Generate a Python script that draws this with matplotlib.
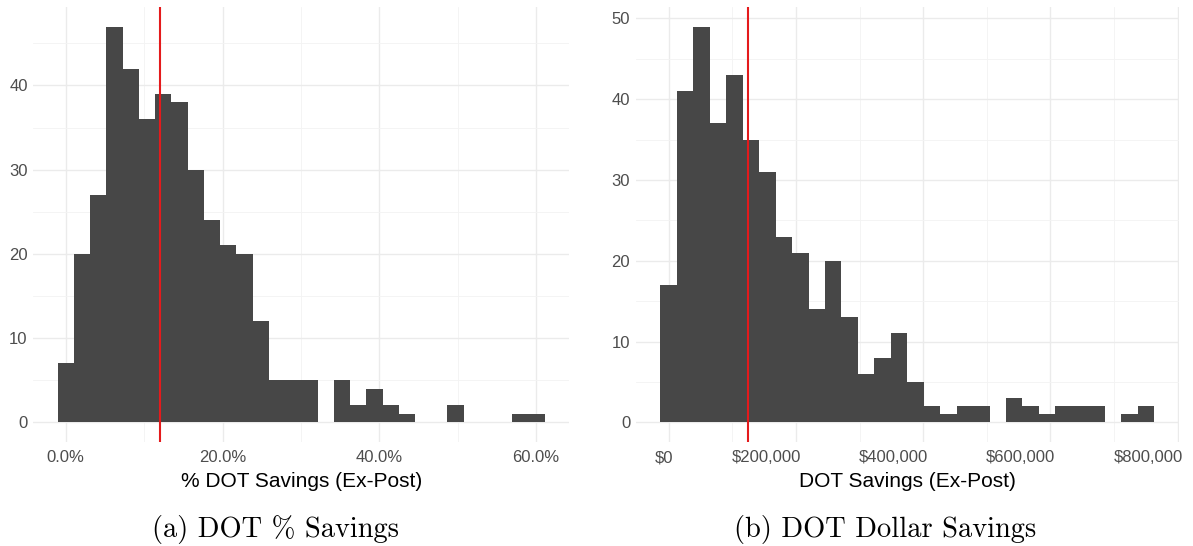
import matplotlib
matplotlib.use("Agg")
import matplotlib.pyplot as plt
import matplotlib.transforms as mtransforms
from matplotlib.ticker import FuncFormatter
import numpy as np

# Histogram counts (30 bins each, ggplot default)
pct_counts = [7, 20, 27, 47, 42, 36, 39, 38, 30, 24, 21, 20, 12, 5, 5,
              5, 0, 5, 2, 4, 2, 1, 0, 0, 2, 0, 0, 0, 1, 1]
pct_binwidth = 2.072      # percent
pct_first_center = 0.0
pct_median = 12.05

dollar_counts = [17, 41, 49, 37, 43, 35, 31, 23, 21, 14, 20, 13, 6, 8, 11,
                 5, 2, 1, 2, 2, 0, 3, 2, 1, 2, 2, 2, 0, 1, 2]
dollar_binwidth = 25860.0
dollar_first_center = 0.0
dollar_median = 124000.0

pct_ticks = [0, 20, 40, 60]
dollar_ticks = [0, 200000, 400000, 600000, 800000]

captions = ["(a) DOT % Savings", "(b) DOT Dollar Savings"]
xlabels = ["% DOT Savings (Ex-Post)", "DOT Savings (Ex-Post)"]

# Style
plt.rcParams["font.family"] = ["Liberation Sans", "DejaVu Sans"]
bar_color = "#474747"
line_color = "#e41a1c"
tick_color = "#4d4d4d"

fig = plt.figure(figsize=(11.93, 5.46), dpi=100)
ax1 = fig.add_axes([0.0279, 0.1903, 0.4493, 0.7974])
ax2 = fig.add_axes([0.5329, 0.1903, 0.4552, 0.7974])


def draw_hist(ax, counts, width, first_center, median):
    counts = np.asarray(counts)
    lefts = first_center - width / 2 + width * np.arange(len(counts))
    ax.bar(lefts, counts, width=width, align="edge", color=bar_color,
           linewidth=0, zorder=2)
    ax.axvline(median, color=line_color, linewidth=1.5, zorder=3)
    lo = lefts[0]
    hi = lefts[-1] + width
    pad = (hi - lo) * 0.05
    ax.set_xlim(lo - pad, hi + pad)
    top = counts.max()
    ax.set_ylim(-top * 0.05, top * 1.05)
    for s in ax.spines.values():
        s.set_visible(False)
    ymax = top * 1.05
    ax.set_yticks([v for v in range(0, 60, 10) if v <= ymax])
    ax.set_yticks([v for v in range(5, 60, 10) if v <= ymax], minor=True)
    ax.tick_params(length=0, labelsize=12, labelcolor=tick_color)
    ax.tick_params(axis="both", which="minor", length=0)
    ax.tick_params(axis="x", pad=6)
    ax.tick_params(axis="y", pad=4)
    ax.grid(True, which="major", color="#ebebeb", linewidth=1.0, zorder=0)
    ax.grid(True, which="minor", color="#f3f3f3", linewidth=0.6, zorder=0)
    ax.set_axisbelow(True)


draw_hist(ax1, pct_counts, pct_binwidth, pct_first_center, pct_median)
ax1.set_xticks(pct_ticks)
ax1.set_xticks([10, 30, 50], minor=True)
ax1.xaxis.set_major_formatter(FuncFormatter(lambda v, p: f"{v:.1f}%"))

draw_hist(ax2, dollar_counts, dollar_binwidth, dollar_first_center, dollar_median)
ax2.set_xticks(dollar_ticks)
ax2.set_xticks([100000, 300000, 500000, 700000], minor=True)
ax2.xaxis.set_major_formatter(FuncFormatter(lambda v, p: f"${v:,.0f}"))

for ax, lab in zip([ax1, ax2], xlabels):
    ax.set_xlabel(lab, fontsize=15, color="black", labelpad=5)

# right panel tick labels sit right-aligned on their ticks
fig.canvas.draw()
offset = mtransforms.ScaledTranslation(5 / 100, 0, fig.dpi_scale_trans)
for lab in ax2.get_xticklabels():
    lab.set_horizontalalignment("right")
    lab.set_transform(lab.get_transform() + offset)

fig.text(276 / 1193, 1 - 530 / 546, captions[0], family="cmr10",
         fontsize=20.5, ha="center", va="center")
fig.text(885 / 1193, 1 - 530 / 546, captions[1], family="cmr10",
         fontsize=20.5, ha="center", va="center")

fig.savefig("out.png", dpi=100)
